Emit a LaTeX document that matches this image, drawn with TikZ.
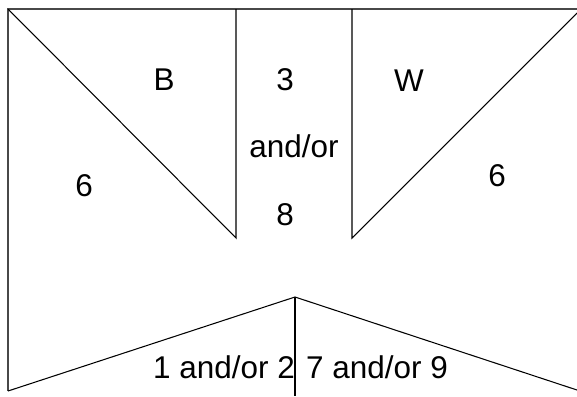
\documentclass[tikz,border=0pt]{standalone}
\usepackage{fontspec}
\setmainfont{Liberation Sans}
\definecolor{bordercolor}{RGB}{72, 72, 72}
\tikzstyle{border} = [draw=bordercolor, line width=1.1pt]
\tikzstyle{divider} = [draw=black, line width=0.6pt]
\tikzstyle{tag} = [font=\fontsize{17.9}{21}\selectfont, inner sep=0pt, text centered]

\begin{document}
\begin{tikzpicture}[x=0.02cm, y=-0.02cm]
    \useasboundingbox (0,0) rectangle (577,396);

    % Corners
    \coordinate (topleft) at (8,9);
    \coordinate (topright) at (577,9);
    \coordinate (bottomleft) at (8,391);
    \coordinate (innerleft) at (236,238);
    \coordinate (innerright) at (352,238);
    \coordinate (apex) at (295,297);

    % Frame
    \draw[border] (topright) -- (topleft) -- (bottomleft);

    % Upper regions
    \draw[divider] (topleft) -- (innerleft) -- (236,9);
    \draw[divider] (352,9) -- (innerright) -- (577,13);

    % Lower regions
    \draw[divider] (bottomleft) -- (apex) -- (577,390);
    \draw[divider] (apex) -- (295,396);

    % Labels
    \node[tag] (black) at (164,80) {B};
    \node[tag] (three) at (285,80) {3};
    \node[tag] (white) at (409,81) {W};
    \node[tag] (andor) at (294,146) {and/or};
    \node[tag] (sixleft) at (84,186) {6};
    \node[tag] (sixright) at (497,176) {6};
    \node[tag] (eight) at (285,215) {8};
    \node[tag] (onetwo) at (224,367) {1 and/or 2};
    \node[tag] (sevennine) at (377,367) {7 and/or 9};
\end{tikzpicture}
\end{document}
